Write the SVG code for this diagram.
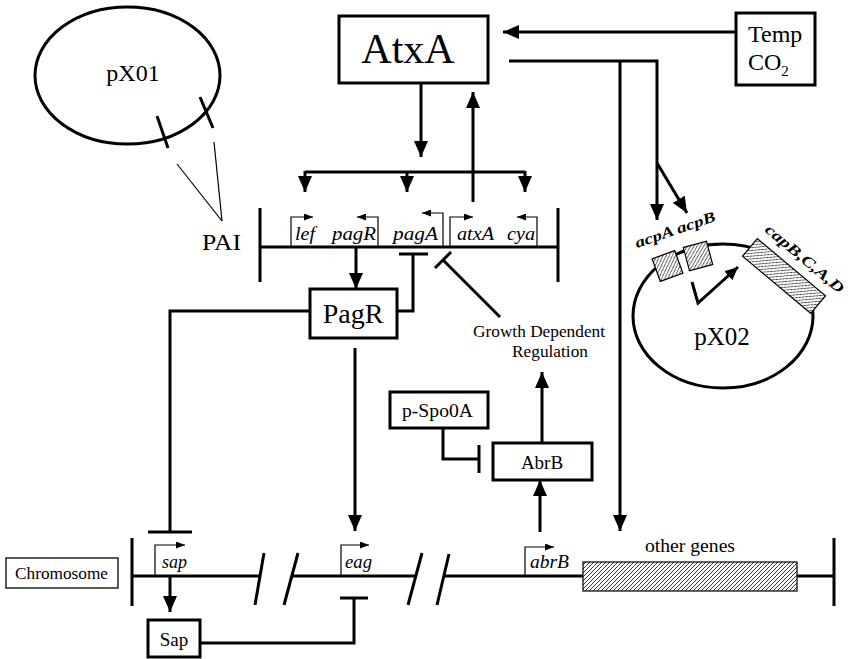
<svg xmlns="http://www.w3.org/2000/svg" width="850" height="659" viewBox="0 0 850 659">
<style>
.ln{stroke:#000;stroke-width:3;fill:none}
.th{stroke:#000;stroke-width:1.2;fill:none}
.bx{stroke:#000;stroke-width:3;fill:#fff}
.t{font-family:"Liberation Serif","Times New Roman",serif;fill:#000}
.g{font-family:"Liberation Serif","Times New Roman",serif;font-style:italic;fill:#000;font-size:18px}
.h{fill:url(#hatch);stroke:#000;stroke-width:1.2}
</style>
<defs>
<marker id="ah" markerUnits="userSpaceOnUse" markerWidth="16" markerHeight="14" refX="16" refY="7" orient="auto"><path d="M0,0 L16,7 L0,14 z" fill="#000"/></marker>
<marker id="as" markerUnits="userSpaceOnUse" markerWidth="9" markerHeight="7" refX="9" refY="3.5" orient="auto"><path d="M0,0 L9,3.5 L0,7 z" fill="#000"/></marker>
<marker id="am" markerUnits="userSpaceOnUse" markerWidth="13" markerHeight="12" refX="13" refY="6" orient="auto"><path d="M0,0 L13,6 L0,12 z" fill="#000"/></marker>
<pattern id="hatch" patternUnits="userSpaceOnUse" width="4" height="4"><rect width="4" height="4" fill="#fff"/><path d="M-1,1 l2,-2 M0,4 l4,-4 M3,5 l2,-2" stroke="#000" stroke-width="0.8"/></pattern>
</defs>

<g id="pX01">
<ellipse cx="127.5" cy="75.5" rx="92.5" ry="68.5" class="ln"/>
<text class="t" x="133" y="81" font-size="24" text-anchor="middle">pX01</text>
<line x1="157" y1="116" x2="168" y2="148" class="ln"/>
<line x1="200" y1="97" x2="213" y2="128" class="ln"/>
<line x1="177" y1="164" x2="222" y2="221" class="th"/>
<line x1="214" y1="142" x2="222" y2="221" class="th"/>
<text class="t" x="202" y="250" font-size="24" textLength="39" lengthAdjust="spacingAndGlyphs">PAI</text>
</g>

<g id="AtxA">
<rect x="339" y="16" width="149" height="67" class="bx"/>
<text class="t" x="408" y="63" font-size="42" text-anchor="middle">AtxA</text>
</g>

<g id="TempCO2">
<rect x="736" y="13" width="79" height="72" class="bx"/>
<text class="t" x="748" y="42" font-size="24">Temp</text>
<text class="t" x="748" y="70" font-size="24">CO<tspan font-size="15" dy="6">2</tspan></text>
</g>

<g id="PAI-locus">
<line x1="260" y1="247" x2="558" y2="247" class="ln"/>
<line x1="260" y1="208" x2="260" y2="282" class="ln"/>
<line x1="558" y1="208" x2="558" y2="282" class="ln"/>
<polyline points="291,247 291,217 313,217" class="th" marker-end="url(#as)"/>
<polyline points="378,247 378,217 357,217" class="th" marker-end="url(#as)"/>
<polyline points="443,247 443,213 422,213" class="th" marker-end="url(#as)"/>
<polyline points="450,247 450,217 473,217" class="th" marker-end="url(#as)"/>
<polyline points="537,247 537,217 517,217" class="th" marker-end="url(#as)"/>
<text class="g" x="295" y="240" textLength="20" lengthAdjust="spacingAndGlyphs">lef</text>
<text class="g" x="332" y="240" textLength="44" lengthAdjust="spacingAndGlyphs">pagR</text>
<text class="g" x="393" y="240" textLength="45" lengthAdjust="spacingAndGlyphs">pagA</text>
<text class="g" x="457" y="240" textLength="37" lengthAdjust="spacingAndGlyphs">atxA</text>
<text class="g" x="507" y="240" textLength="28" lengthAdjust="spacingAndGlyphs">cya</text>
</g>

<g id="PagR">
<rect x="310" y="289" width="87" height="49" class="bx"/>
<text class="t" x="353" y="323" font-size="28" text-anchor="middle">PagR</text>
</g>

<g id="GrowthDependentRegulation">
<text class="t" x="539" y="337" font-size="17" text-anchor="middle" textLength="132" lengthAdjust="spacingAndGlyphs">Growth Dependent</text>
<text class="t" x="550" y="357" font-size="17" text-anchor="middle" textLength="76" lengthAdjust="spacingAndGlyphs">Regulation</text>
</g>

<g id="pSpo0A">
<rect x="390" y="392" width="98" height="36" class="bx"/>
<text class="t" x="402" y="417" font-size="18" textLength="71" lengthAdjust="spacingAndGlyphs">p-Spo0A</text>
</g>

<g id="AbrB">
<rect x="493" y="443" width="99" height="37" class="bx"/>
<text class="t" x="542" y="469" font-size="19" text-anchor="middle">AbrB</text>
</g>

<g id="pX02">
<ellipse cx="723" cy="316" rx="90" ry="72" class="ln"/>
<g transform="translate(667.5,266) rotate(-20)"><rect x="-12" y="-12" width="24" height="24" class="h"/></g>
<g transform="translate(698,256) rotate(-15)"><rect x="-12" y="-12" width="24" height="24" class="h"/></g>
<g transform="translate(784,276) rotate(40)"><rect x="-44.5" y="-11.5" width="89" height="23" class="h"/></g>
<text class="t" x="637" y="248" font-size="15" font-style="italic" font-weight="bold" transform="rotate(-19 637 248)" textLength="84" lengthAdjust="spacingAndGlyphs">acpA acpB</text>
<text class="t" x="764" y="231" font-size="15" font-style="italic" font-weight="bold" transform="rotate(40 764 231)" textLength="98" lengthAdjust="spacingAndGlyphs">capB,C,A,D</text>
<polyline points="692,282 698,303 738,267" class="ln" stroke-width="2" marker-end="url(#am)"/>
<text class="t" x="722" y="345" font-size="25" text-anchor="middle">pX02</text>
</g>

<g id="Chromosome">
<rect x="6" y="558" width="112" height="30" fill="#fff" stroke="#000" stroke-width="1.3"/>
<text class="t" x="15" y="579" font-size="17" textLength="93" lengthAdjust="spacingAndGlyphs">Chromosome</text>
<line x1="132" y1="538" x2="132" y2="606" class="ln"/>
<line x1="132" y1="576" x2="261" y2="576" class="ln"/>
<line x1="291" y1="576" x2="416" y2="576" class="ln"/>
<line x1="444" y1="576" x2="834" y2="576" class="ln"/>
<line x1="264" y1="553" x2="255" y2="605" class="ln"/>
<line x1="298" y1="553" x2="284" y2="605" class="ln"/>
<line x1="422" y1="553" x2="408" y2="605" class="ln"/>
<line x1="449" y1="554" x2="437" y2="605" class="ln"/>
<line x1="834" y1="538" x2="834" y2="606" class="ln"/>
<rect x="583" y="562" width="214" height="29" class="h"/>
<text class="t" x="690" y="552" font-size="19" text-anchor="middle" textLength="90" lengthAdjust="spacingAndGlyphs">other genes</text>
<polyline points="155,576 155,545 185,545" class="th" marker-end="url(#as)"/>
<polyline points="341,576 341,545 369,545" class="th" marker-end="url(#as)"/>
<polyline points="525,576 525,547 554,547" class="th" marker-end="url(#as)"/>
<text class="g" x="162" y="568" textLength="25" lengthAdjust="spacingAndGlyphs">sap</text>
<text class="g" x="345" y="568" textLength="27" lengthAdjust="spacingAndGlyphs">eag</text>
<text class="g" x="530" y="568" textLength="39" lengthAdjust="spacingAndGlyphs">abrB</text>
</g>

<g id="Sap">
<rect x="148" y="620" width="52" height="37" class="bx"/>
<text class="t" x="174" y="646" font-size="19" text-anchor="middle">Sap</text>
</g>

<g id="connectors">
<line x1="736" y1="32" x2="503" y2="32" class="ln" marker-end="url(#ah)"/>
<line x1="421" y1="83" x2="421" y2="157" class="ln" marker-end="url(#ah)"/>
<line x1="305" y1="172" x2="525" y2="172" class="ln"/>
<line x1="305" y1="171" x2="305" y2="192" class="ln" marker-end="url(#ah)"/>
<line x1="407" y1="171" x2="407" y2="192" class="ln" marker-end="url(#ah)"/>
<line x1="525" y1="171" x2="525" y2="192" class="ln" marker-end="url(#ah)"/>
<line x1="473" y1="202" x2="473" y2="92" class="ln" marker-end="url(#ah)"/>
<polyline points="509,61 657,61 657,220" class="ln" marker-end="url(#ah)"/>
<line x1="620" y1="61" x2="620" y2="531" class="ln" marker-end="url(#ah)"/>
<line x1="657" y1="163" x2="687" y2="213" class="ln" marker-end="url(#ah)"/>
<line x1="356" y1="247" x2="356" y2="289" class="ln" marker-end="url(#ah)"/>
<polyline points="397,311 413,311 413,254" class="ln"/>
<line x1="399" y1="254" x2="428" y2="254" class="ln"/>
<line x1="500" y1="317" x2="443" y2="260" class="ln"/>
<line x1="435" y1="268" x2="451" y2="252" class="ln"/>
<polyline points="310,311 170,311 170,532" class="ln"/>
<line x1="148" y1="532" x2="192" y2="532" class="ln"/>
<line x1="355" y1="348" x2="355" y2="531" class="ln" marker-end="url(#ah)"/>
<line x1="170" y1="576" x2="170" y2="612" class="ln" marker-end="url(#ah)"/>
<polyline points="200,643 354,643 354,598" class="ln"/>
<line x1="340" y1="598" x2="368" y2="598" class="ln"/>
<line x1="540" y1="532" x2="540" y2="480" class="ln" marker-end="url(#ah)"/>
<line x1="542" y1="443" x2="542" y2="372" class="ln" marker-end="url(#ah)"/>
<polyline points="443,428 443,459 479,459" class="ln"/>
<line x1="479" y1="445" x2="479" y2="473" class="ln"/>
</g>
</svg>
